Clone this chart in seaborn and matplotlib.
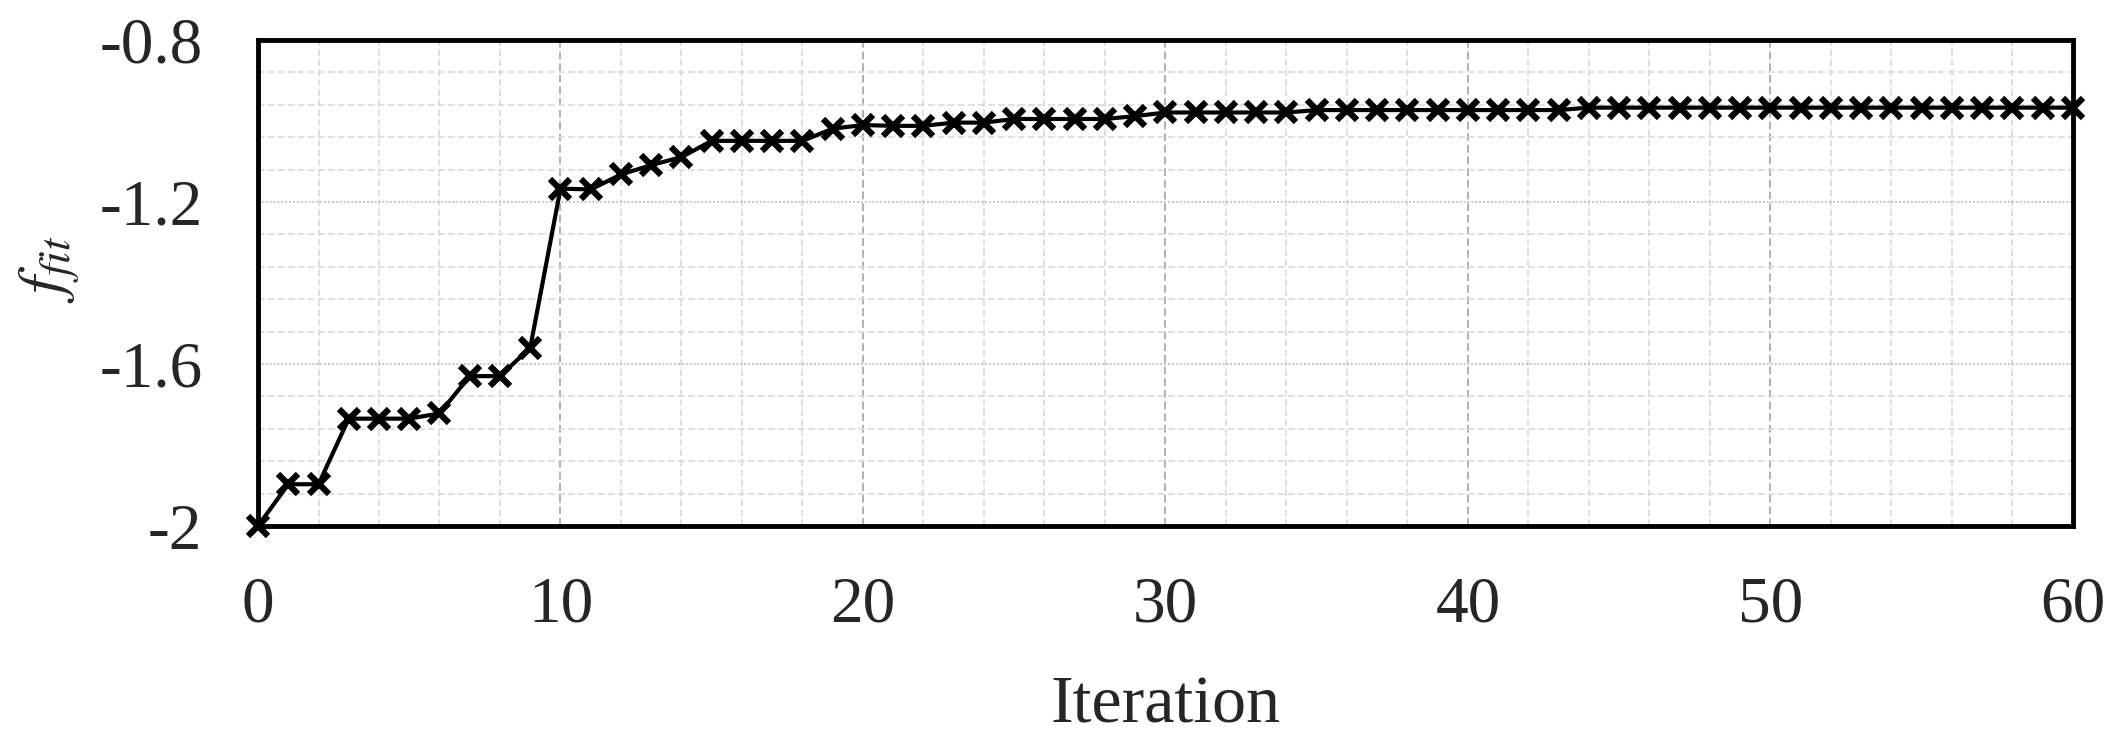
import matplotlib
matplotlib.use('Agg')
import matplotlib.pyplot as plt
import numpy as np
import seaborn as sns
from matplotlib.ticker import MultipleLocator

# Data
iterations = list(range(61))
fitness = [-2.000, -1.897, -1.897, -1.735, -1.735, -1.735, -1.722, -1.630, -1.630, -1.560,
           -1.167, -1.169, -1.132, -1.109, -1.089, -1.049, -1.049, -1.049, -1.049, -1.019,
           -1.010, -1.012, -1.012, -1.004, -1.004, -0.995, -0.995, -0.995, -0.995, -0.988,
           -0.979, -0.979, -0.979, -0.979, -0.979,
           -0.973, -0.973, -0.973, -0.973, -0.973, -0.973, -0.973, -0.973, -0.973,
           -0.967, -0.967, -0.967, -0.967, -0.967, -0.967, -0.967, -0.967, -0.967,
           -0.967, -0.967, -0.967, -0.967, -0.967, -0.967, -0.967, -0.967]
x_ticks = [0, 10, 20, 30, 40, 50, 60]
y_ticks = [-2.0, -1.6, -1.2, -0.8]
y_tick_labels = ['-2', '-1.6', '-1.2', '-0.8']

sns.set_style('white')
plt.rcParams['font.family'] = ['Liberation Serif', 'DejaVu Serif']
plt.rcParams['mathtext.fontset'] = 'stix'

fig, ax = plt.subplots(figsize=(21.2, 7.45), dpi=100)
fig.subplots_adjust(left=0.1217, right=0.9778, top=0.9463, bottom=0.294)

sns.lineplot(x=iterations, y=fitness, ax=ax, color='black', linewidth=3,
             marker='x', markersize=15, markeredgewidth=4.5,
             markeredgecolor='black', clip_on=False, zorder=5)

ax.set_xlim(0, 60)
ax.set_ylim(-2, -0.8)
ax.set_xticks(x_ticks)
ax.set_yticks(y_ticks)
ax.set_yticklabels(y_tick_labels)
ax.xaxis.set_minor_locator(MultipleLocator(2))
ax.yaxis.set_minor_locator(MultipleLocator(0.08))

# grid
ax.grid(which='major', axis='x', color='#b0b0b0', linestyle=(0, (4, 2)), linewidth=1.4)
ax.grid(which='major', axis='y', color='#c4c4c4', linestyle=(0, (1, 1)), linewidth=1.4)
ax.grid(which='minor', color='#dadada', linestyle=(0, (4, 2)), linewidth=1.2)
ax.set_axisbelow(True)

for s in ax.spines.values():
    s.set_linewidth(3.5)
    s.set_color('black')

ax.tick_params(axis='x', which='both', length=0, labelsize=47, pad=36)
ax.tick_params(axis='y', which='major', direction='in', length=16, width=3,
               labelsize=47, pad=40)
ax.tick_params(axis='y', which='minor', length=0)

ax.set_xlabel('Iteration', fontsize=49, labelpad=29)
ax.set_ylabel(r'$f_{fit}$', fontsize=46)
ax.yaxis.set_label_coords(-0.097, 0.527)

plt.savefig('out.png', dpi=100)
